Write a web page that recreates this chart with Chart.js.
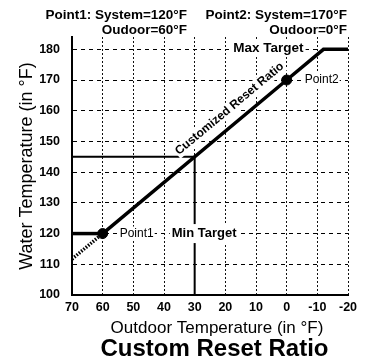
<!DOCTYPE html>
<html>
<head>
<meta charset="utf-8">
<script src="https://cdn.jsdelivr.net/npm/chart.js@4.4.1/dist/chart.umd.min.js"></script>
<style>
  html, body { margin: 0; padding: 0; background: #fff; }
  #wrap { width: 365px; height: 364px; }
</style>
</head>
<body>
<div id="wrap"><canvas id="grafica" width="365" height="364"></canvas></div>
<script>
// axis ticks (°F)
const xTicks = [70, 60, 50, 40, 30, 20, 10, 0, -10, -20];
const yTicks = [100, 110, 120, 130, 140, 150, 160, 170, 180];

// reset curve: Point1 -> Point2, then held at max target
const resetX = [60, 0, -12, -20];
const resetY = [120, 170, 180, 180];
// held at min target above 60°F outdoor
const minX = [70, 60];
const minY = [120, 120];
// ratio continued past Point1 (dotted)
const extX = [70, 60];
const extY = [111.7, 120];
// reading at 30°F outdoor
const readX = [70, 30, 30];
const readY = [145, 145, 100];
// the two set points
const pointX = [60, 0];
const pointY = [120, 170];

const FONT = "'Liberation Sans', Arial, Helvetica, sans-serif";
Chart.defaults.font.family = FONT;
Chart.defaults.color = '#000';

function pts(xs, ys) {
    return xs.map(function (x, i) { return { x: x, y: ys[i] }; });
}

// text with a white box behind it
function tag(ctx, text, x, y, font, align, padX, padY) {
    ctx.font = font;
    var w = ctx.measureText(text).width;
    var h = parseFloat(font.match(/([\d.]+)px/)[1]);
    var left = align === 'left' ? x : x - w / 2;
    ctx.fillStyle = '#fff';
    ctx.fillRect(left - padX, y - h / 2 - padY, w + padX * 2, h + padY * 2);
    ctx.fillStyle = '#000';
    ctx.textAlign = 'left';
    ctx.textBaseline = 'middle';
    ctx.fillText(text, left, y);
}

const etiquetas = {
    id: 'etiquetas',
    afterDatasetsDraw: function (chart) {
        var ctx = chart.ctx;
        var xs = chart.scales.x, ys = chart.scales.y;
        ctx.save();

        // slope label along the reset line
        var ax = xs.getPixelForValue(pointX[0]), ay = ys.getPixelForValue(pointY[0]);
        var bx = xs.getPixelForValue(pointX[1]), by = ys.getPixelForValue(pointY[1]);
        var ang = Math.atan2(by - ay, bx - ax);
        var t = 0.74;
        var cx = ax + (bx - ax) * t + Math.sin(ang) * 14.5;
        var cy = ay + (by - ay) * t - Math.cos(ang) * 14.5;
        ctx.save();
        ctx.translate(cx, cy);
        ctx.rotate(ang);
        tag(ctx, 'Customized Reset Ratio', 0, 0, 'bold 12px ' + FONT, 'center', 1, 1);
        ctx.restore();

        tag(ctx, 'Point1', ax + 17, ay, '12px ' + FONT, 'left', 1, 1);
        tag(ctx, 'Point2', bx + 18, by, '12px ' + FONT, 'left', 1, 1);
        tag(ctx, 'Min Target', xs.getPixelForValue(readX[1]) + 9.5, ys.getPixelForValue(minY[0]),
            'bold 13px ' + FONT, 'center', 2, 3);
        tag(ctx, 'Max Target', xs.getPixelForValue(resetX[2]) - 55, ys.getPixelForValue(resetY[2]) - 1.5,
            'bold 13.5px ' + FONT, 'center', 2, 2);
        ctx.restore();
    },
    afterDraw: function (chart) {
        var ctx = chart.ctx;
        ctx.save();
        ctx.fillStyle = '#000';
        ctx.textBaseline = 'alphabetic';

        ctx.font = 'bold 13.5px ' + FONT;
        ctx.textAlign = 'right';
        ctx.fillText('Point1: System=' + pointY[0] + '°F', 187, 19);
        ctx.fillText('Oudoor=' + pointX[0] + '°F', 187, 33.5);
        ctx.fillText('Point2: System=' + pointY[1] + '°F', 347, 19);
        ctx.fillText('Oudoor=' + pointX[1] + '°F', 347, 33.5);

        ctx.textAlign = 'center';
        ctx.font = '17px ' + FONT;
        ctx.fillText('Outdoor Temperature (in °F)', 217, 333);
        ctx.font = 'bold 24px ' + FONT;
        ctx.fillText('Custom Reset Ratio', 214.5, 355.5);
        ctx.restore();
    }
};

var ctx = document.getElementById('grafica').getContext('2d');
var myChart = new Chart(ctx, {
    type: 'scatter',
    data: {
        datasets: [
            {
                label: 'Points',
                data: pts(pointX, pointY),
                showLine: false,
                pointRadius: 5,
                pointHoverRadius: 5,
                backgroundColor: '#000',
                borderColor: '#000'
            },
            {
                label: 'Reset',
                data: pts(resetX, resetY),
                showLine: true,
                borderColor: '#000',
                borderWidth: 3.5,
                pointRadius: 0
            },
            {
                label: 'Min',
                data: pts(minX, minY),
                showLine: true,
                borderColor: '#000',
                borderWidth: 3.5,
                pointRadius: 0
            },
            {
                label: 'Ext',
                data: pts(extX, extY),
                showLine: true,
                borderColor: '#000',
                borderWidth: 3.5,
                borderDash: [1.5, 1.5],
                pointRadius: 0
            },
            {
                label: 'Reading',
                data: pts(readX, readY),
                showLine: true,
                borderColor: '#000',
                borderWidth: 2,
                pointRadius: 0
            }
        ]
    },
    options: {
        responsive: false,
        animation: false,
        devicePixelRatio: 1,
        layout: { padding: { top: 37, right: 17, bottom: 0, left: 0 } },
        plugins: {
            legend: { display: false },
            tooltip: { enabled: false },
            title: { display: false }
        },
        scales: {
            x: {
                type: 'linear',
                reverse: true,
                min: -20,
                max: 70,
                afterBuildTicks: function (s) { s.ticks = xTicks.map(function (v) { return { value: v }; }); },
                afterFit: function (s) { s.height = 69; },
                grid: { color: '#111', lineWidth: 1, drawTicks: false },
                border: { color: '#000', width: 2, dash: [2, 2] },
                ticks: {
                    color: '#000',
                    padding: 5,
                    maxRotation: 0,
                    autoSkip: false,
                    font: { size: 12.5, weight: 'bold' }
                }
            },
            y: {
                type: 'linear',
                min: 100,
                max: 184,
                afterBuildTicks: function (s) { s.ticks = yTicks.map(function (v) { return { value: v }; }); },
                afterFit: function (s) { s.width = 72; },
                grid: { color: '#000', lineWidth: 1, drawTicks: false },
                border: { color: '#000', width: 2, dash: [4, 4] },
                ticks: {
                    color: '#000',
                    padding: 12,
                    font: { size: 12.5, weight: 'bold' }
                },
                title: {
                    display: true,
                    text: 'Water Temperature (in °F)',
                    color: '#000',
                    font: { size: 18 },
                    padding: { top: 16, bottom: 0 }
                }
            }
        }
    },
    plugins: [etiquetas]
});
</script>
</body>
</html>
